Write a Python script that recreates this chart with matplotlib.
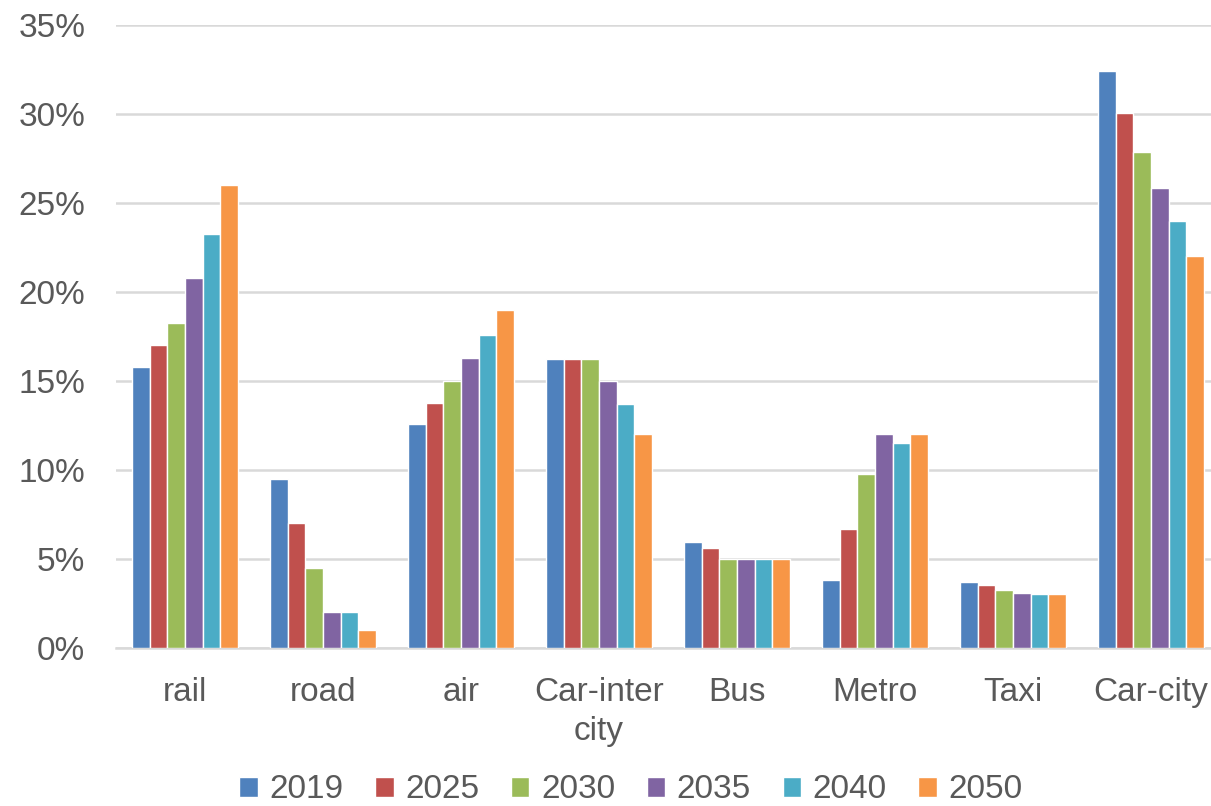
import numpy as np
import matplotlib
matplotlib.use("Agg")
import matplotlib.pyplot as plt
from matplotlib.ticker import PercentFormatter

plt.rcParams['font.family'] = ['Liberation Sans Narrow', 'Liberation Sans', 'DejaVu Sans']

# data (percent share)
categories = ["rail", "road", "air", "Car-inter\ncity", "Bus", "Metro", "Taxi", "Car-city"]
years = ["2019", "2025", "2030", "2035", "2040", "2050"]

v2019 = [15.75, 9.5, 12.55, 16.2, 5.95, 3.8, 3.7, 32.4]
v2025 = [17.0, 7.0, 13.75, 16.2, 5.6, 6.65, 3.55, 30.05]
v2030 = [18.25, 4.5, 15.0, 16.2, 5.0, 9.75, 3.25, 27.85]
v2035 = [20.75, 2.0, 16.25, 15.0, 5.0, 12.0, 3.05, 25.8]
v2040 = [23.25, 2.0, 17.55, 13.7, 5.0, 11.5, 3.0, 23.95]
v2050 = [26.0, 1.0, 19.0, 12.0, 5.0, 12.0, 3.0, 22.0]

series = [v2019, v2025, v2030, v2035, v2040, v2050]
colors = ["#4F81BD", "#C0504D", "#9BBB59", "#8064A2", "#4BACC6", "#F79646"]

W, H = 1211, 806
fig = plt.figure(figsize=(W / 100, H / 100), dpi=100)
ax = fig.add_axes([116 / W, (H - 647.7) / H, (W - 116) / W, (647.7 - 24.7) / H])

x = np.arange(len(categories))
bw = 0.128
for i, (vals, c, yr) in enumerate(zip(series, colors, years)):
    offs = (i - 2.5) * bw
    ax.bar(x + offs, vals, width=bw, color=c, edgecolor="white", linewidth=1.0,
           label=yr, zorder=3)

ax.set_ylim(0, 35)
ax.set_xlim(-0.5, 7.5 - 9 / 138)
ax.set_yticks(np.arange(0, 36, 5))
ax.yaxis.set_major_formatter(PercentFormatter(decimals=0))
ax.grid(axis="y", color="#D9D9D9", linewidth=1.8, zorder=0)
for s in ["top", "right", "left"]:
    ax.spines[s].set_visible(False)
ax.spines["bottom"].set_color("#D9D9D9")
ax.spines["bottom"].set_linewidth(1.8)
ax.tick_params(axis="both", length=0, colors="#595959", labelsize=24)
ax.tick_params(axis="y", pad=22)
ax.tick_params(axis="x", pad=21)
ax.set_xticks(x)
ax.set_xticklabels(categories, linespacing=1.35)

leg = fig.legend(loc="center", bbox_to_anchor=(631 / W, (H - 790) / H), ncol=6,
                 frameon=False, fontsize=24, handlelength=0.55, handleheight=0.55,
                 handletextpad=0.35, columnspacing=0.95, labelcolor="#595959")

fig.savefig("out.png", dpi=100)
